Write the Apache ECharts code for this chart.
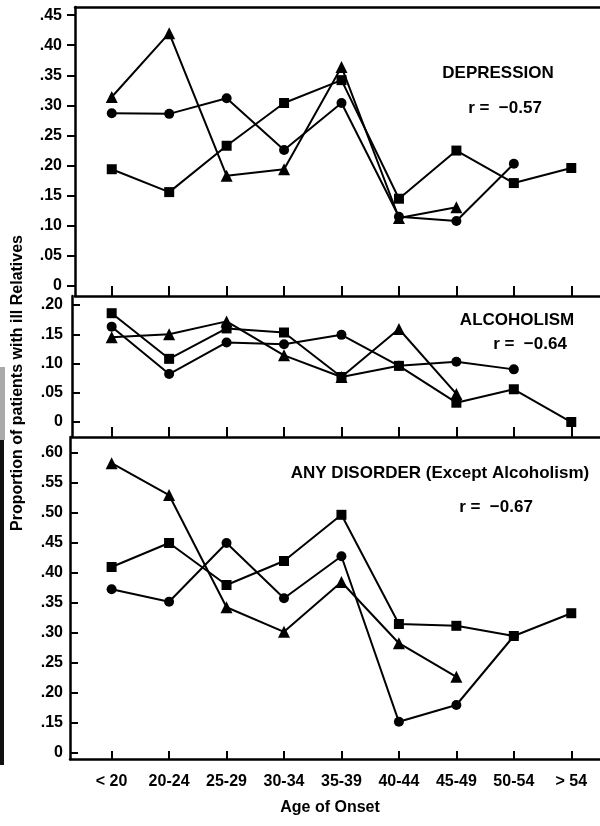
<!DOCTYPE html>
<html>
<head>
<meta charset="utf-8">
<script src="https://cdn.jsdelivr.net/npm/echarts@6/dist/echarts.min.js"></script>
<style>
  html, body { margin: 0; padding: 0; background: #fff; }
  #chart { width: 600px; height: 826px; }
</style>
</head>
<body>
<div id="chart"></div>
<script>
// age-of-onset categories (x axis)
const ageGroups = ['< 20', '20-24', '25-29', '30-34', '35-39', '40-44', '45-49', '50-54', '> 54'];

// Depression panel
const depTriangles = [0.314, 0.420, 0.183, 0.194, 0.364, 0.113, 0.131];
const depCircles = [0.287, 0.286, 0.312, 0.226, 0.304, 0.115, 0.108, 0.203];
const depSquares = [0.194, 0.156, 0.233, 0.304, 0.342, 0.145, 0.225, 0.171, 0.196];
const depTicks = [0, 0.05, 0.10, 0.15, 0.20, 0.25, 0.30, 0.35, 0.40, 0.45];
const depTickLabels = ['0', '.05', '.10', '.15', '.20', '.25', '.30', '.35', '.40', '.45'];

// Alcoholism panel
const alcTriangles = [0.145, 0.150, 0.172, 0.114, 0.077, 0.159, 0.048];
const alcCircles = [0.163, 0.082, 0.136, 0.133, 0.149, 0.096, 0.103, 0.090];
const alcSquares = [0.186, 0.108, 0.160, 0.153, 0.077, 0.096, 0.033, 0.056, 0.000];
const alcTicks = [0, 0.05, 0.10, 0.15, 0.20];
const alcTickLabels = ['0', '.05', '.10', '.15', '.20'];

// Any disorder panel (axis is broken: lowest tick is labelled 0)
const anyTriangles = [0.583, 0.530, 0.343, 0.302, 0.385, 0.283, 0.227];
const anyCircles = [0.373, 0.352, 0.450, 0.358, 0.428, 0.152, 0.180, 0.295];
const anySquares = [0.410, 0.450, 0.380, 0.420, 0.497, 0.315, 0.312, 0.295, 0.333];
const anyTicks = [0.10, 0.15, 0.20, 0.25, 0.30, 0.35, 0.40, 0.45, 0.50, 0.55, 0.60];
const anyTickLabels = ['0', '.15', '.20', '.25', '.30', '.35', '.40', '.45', '.50', '.55', '.60'];

const FONT = '"Liberation Sans", Arial, sans-serif';
const band = 59.375;   // px between category ticks
const firstTick = 113; // px of the first category tick

// panel layout: left edge, top, bottom, y-range
const panels = [
  { left: 75, top: 7, bottom: 296, min: -0.0166, max: 0.4635, ticks: depTicks, labels: depTickLabels, tickIn: false, labelMargin: 13, xTick: 10 },
  { left: 72, top: 296, bottom: 437, min: -0.0256, max: 0.2154, ticks: alcTicks, labels: alcTickLabels, tickIn: true, labelMargin: 9, xTick: 10 },
  { left: 70, top: 437, bottom: 759, min: 0.09, max: 0.6267, ticks: anyTicks, labels: anyTickLabels, tickIn: true, labelMargin: 7, xTick: 8 }
];

const chart = echarts.init(document.getElementById('chart'), null, { renderer: 'canvas' });

const grids = [], xAxes = [], yAxes = [];
panels.forEach((p, i) => {
  const xMin = -(firstTick - p.left) / band;
  const xMax = 8.5;
  grids.push({ left: p.left, top: p.top, height: p.bottom - p.top, width: (xMax - xMin) * band });
  xAxes.push({
    gridIndex: i, type: 'value', min: xMin, max: xMax, position: 'bottom',
    axisLine: { show: true, onZero: false, lineStyle: { color: '#000', width: 2.5 } },
    axisTick: { show: true, inside: true, length: p.xTick, customValues: ageGroups.map((_, k) => k), lineStyle: { color: '#000', width: 2 } },
    axisLabel: {
      show: i === 2, customValues: ageGroups.map((_, k) => k), margin: 15,
      formatter: (v) => ageGroups[Math.round(v)],
      color: '#000', fontFamily: FONT, fontWeight: 'bold', fontSize: 16
    },
    splitLine: { show: false }
  });
  yAxes.push({
    gridIndex: i, type: 'value', min: p.min, max: p.max,
    axisLine: { show: true, onZero: false, lineStyle: { color: '#000', width: 2.5 } },
    axisTick: { show: true, inside: p.tickIn, length: 8, customValues: p.ticks, lineStyle: { color: '#000', width: 2 } },
    axisLabel: {
      customValues: p.ticks, margin: p.labelMargin,
      formatter: (v) => {
        const k = p.ticks.findIndex(t => Math.abs(t - v) < 1e-6);
        return k >= 0 ? p.labels[k] : '';
      },
      color: '#000', fontFamily: FONT, fontWeight: 'bold', fontSize: 16
    },
    splitLine: { show: false }
  });
});

// top border of the depression panel
xAxes.push({
  gridIndex: 0, type: 'value', min: -(firstTick - panels[0].left) / band, max: 8.5, position: 'top',
  axisLine: { show: true, onZero: false, lineStyle: { color: '#000', width: 2.5 } },
  axisTick: { show: false }, axisLabel: { show: false }, splitLine: { show: false }
});

function pairs(arr) {
  return arr.map((v, k) => [k, v]);
}

function line(name, values, idx, symbol, size) {
  return {
    name: name, type: 'line', xAxisIndex: idx, yAxisIndex: idx,
    data: pairs(values), symbol: symbol, symbolSize: size,
    lineStyle: { color: '#000', width: 2 },
    itemStyle: { color: '#000' },
    z: 3
  };
}

const series = [
  line('Depression ▲', depTriangles, 0, 'triangle', 12),
  line('Depression ●', depCircles, 0, 'circle', 10),
  line('Depression ■', depSquares, 0, 'rect', 10),
  line('Alcoholism ▲', alcTriangles, 1, 'triangle', 12),
  line('Alcoholism ●', alcCircles, 1, 'circle', 10),
  line('Alcoholism ■', alcSquares, 1, 'rect', 10),
  line('Any disorder ▲', anyTriangles, 2, 'triangle', 12),
  line('Any disorder ●', anyCircles, 2, 'circle', 10),
  line('Any disorder ■', anySquares, 2, 'rect', 10)
];

function label(text, x, y, size, extra) {
  return Object.assign({
    type: 'text', x: x, y: y,
    style: { text: text, fill: '#000', font: 'bold ' + size + 'px ' + FONT, textAlign: 'center', textVerticalAlign: 'middle' }
  }, extra || {});
}

const option = {
  animation: false,
  backgroundColor: '#fff',
  grid: grids,
  xAxis: xAxes,
  yAxis: yAxes,
  series: series,
  graphic: [
    label('DEPRESSION', 498, 73, 17),
    label('r =  \u22120.57', 505, 108, 17),
    label('ALCOHOLISM', 517, 320, 17),
    label('r =  \u22120.64', 530, 344, 17),
    label('ANY DISORDER (Except Alcoholism)', 440, 473, 17),
    label('r =  \u22120.67', 496, 507, 17),
    label('Age of Onset', 330, 808, 16),
    label('Proportion of patients with ill Relatives', 18, 383, 16, { rotation: Math.PI / 2 }),
    // scan edge on the left
    { type: 'rect', shape: { x: 0, y: 367, width: 5, height: 73 }, style: { fill: '#aaa' } },
    { type: 'rect', shape: { x: 0, y: 440, width: 4, height: 325 }, style: { fill: '#111' } }
  ]
};

chart.setOption(option);
</script>
</body>
</html>
